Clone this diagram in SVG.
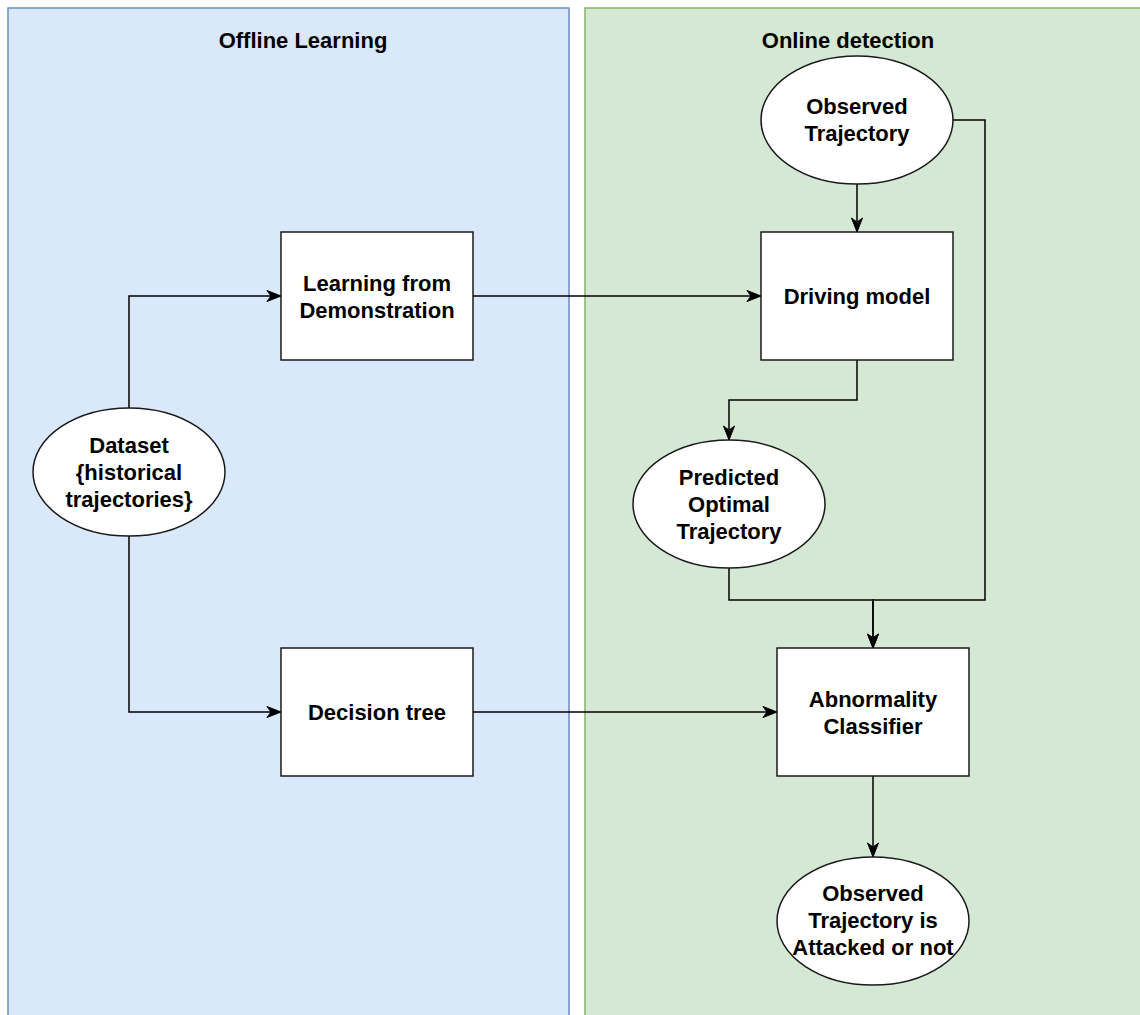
<svg xmlns="http://www.w3.org/2000/svg" width="1140" height="1015" viewBox="0 0 1140 1015">
  <defs>
    <marker id="arrow" markerUnits="userSpaceOnUse" markerWidth="16" markerHeight="14" viewBox="0 0 16 14" refX="15" refY="7" orient="auto">
      <path d="M1,1.5 L15,7 L1,12.5 L5,7 Z" fill="#000" stroke="#000" stroke-width="1"/>
    </marker>
  </defs>
  <style>
    .lane-blue { fill: #dae8fc; stroke: #6c8ebf; stroke-width: 1.5; }
    .lane-green { fill: #d5e8d4; stroke: #82b366; stroke-width: 1.5; }
    .box { fill: #ffffff; stroke: #1a1a1a; stroke-width: 1.5; }
    .title { font-family: "Liberation Sans", Arial, sans-serif; font-size: 22px; font-weight: bold; fill: #000; text-anchor: middle; }
    .label { font-family: "Liberation Sans", Arial, sans-serif; font-size: 22px; font-weight: bold; fill: #000; text-anchor: middle; }
    .edge { fill: none; stroke: #000; stroke-width: 1.5; }
  </style>

  <rect width="1140" height="1015" fill="#ffffff"/>

  <!-- swimlanes -->
  <g id="lane-offline">
    <rect class="lane-blue" x="8" y="8" width="561" height="1020"/>
    <text class="title" x="303" y="48">Offline Learning</text>
  </g>
  <g id="lane-online">
    <rect class="lane-green" x="585" y="8" width="570" height="1020"/>
    <text class="title" x="848" y="48">Online detection</text>
  </g>

  <!-- connectors -->
  <g id="connectors">
    <polyline class="edge" points="129,408 129,296 281,296" marker-end="url(#arrow)"/>
    <polyline class="edge" points="129,536 129,712 281,712" marker-end="url(#arrow)"/>
    <polyline class="edge" points="473,296 761,296" marker-end="url(#arrow)"/>
    <polyline class="edge" points="473,712 777,712" marker-end="url(#arrow)"/>
    <polyline class="edge" points="857,184 857,232" marker-end="url(#arrow)"/>
    <polyline class="edge" points="857,360 857,400 729,400 729,440" marker-end="url(#arrow)"/>
    <polyline class="edge" points="953,120 985,120 985,600 873,600 873,648" marker-end="url(#arrow)"/>
    <polyline class="edge" points="729,568 729,600 873,600 873,648" marker-end="url(#arrow)"/>
    <polyline class="edge" points="873,776 873,857" marker-end="url(#arrow)"/>
  </g>

  <!-- nodes -->
  <g id="dataset">
    <ellipse class="box" cx="129" cy="472" rx="96" ry="64"/>
    <text class="label" x="129" y="453">Dataset</text>
    <text class="label" x="129" y="480">{historical</text>
    <text class="label" x="129" y="507">trajectories}</text>
  </g>
  <g id="learning-from-demonstration">
    <rect class="box" x="281" y="232" width="192" height="128"/>
    <text class="label" x="377" y="291">Learning from</text>
    <text class="label" x="377" y="318">Demonstration</text>
  </g>
  <g id="decision-tree">
    <rect class="box" x="281" y="648" width="192" height="128"/>
    <text class="label" x="377" y="720">Decision tree</text>
  </g>
  <g id="observed-trajectory">
    <ellipse class="box" cx="857" cy="120" rx="96" ry="64"/>
    <text class="label" x="857" y="114">Observed</text>
    <text class="label" x="857" y="141">Trajectory</text>
  </g>
  <g id="driving-model">
    <rect class="box" x="761" y="232" width="192" height="128"/>
    <text class="label" x="857" y="304">Driving model</text>
  </g>
  <g id="predicted-optimal-trajectory">
    <ellipse class="box" cx="729" cy="504" rx="96" ry="64"/>
    <text class="label" x="729" y="485">Predicted</text>
    <text class="label" x="729" y="512">Optimal</text>
    <text class="label" x="729" y="539">Trajectory</text>
  </g>
  <g id="abnormality-classifier">
    <rect class="box" x="777" y="648" width="192" height="128"/>
    <text class="label" x="873" y="707">Abnormality</text>
    <text class="label" x="873" y="734">Classifier</text>
  </g>
  <g id="attack-result">
    <ellipse class="box" cx="873" cy="921" rx="96" ry="64"/>
    <text class="label" x="873" y="901">Observed</text>
    <text class="label" x="873" y="928">Trajectory is</text>
    <text class="label" x="873" y="955">Attacked or not</text>
  </g>
</svg>
